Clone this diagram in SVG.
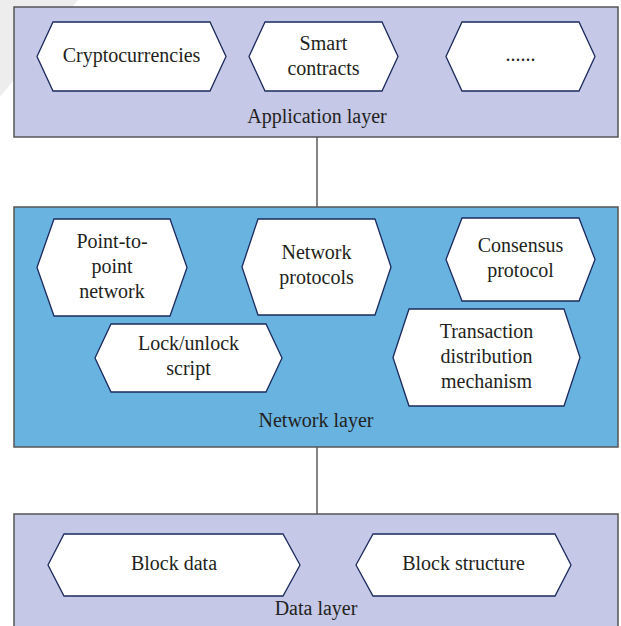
<svg xmlns="http://www.w3.org/2000/svg" width="621" height="626" viewBox="0 0 621 626">
<style>
.layer{stroke:#555;stroke-width:1.5}
.light{fill:#c5c8e6}
.blue{fill:#69b3e1}
.hex{fill:#fff;stroke:#1b2a5c;stroke-width:1.3;stroke-linejoin:miter}
text{font-family:'Liberation Serif','DejaVu Serif',serif;font-size:20px;fill:#231f20;text-anchor:middle}
.conn{stroke:#333;stroke-width:1.2;fill:none}
</style>
<rect width="621" height="626" fill="#fff"/>
<polygon points="0,0 78,0 0,97" fill="#ededed"/>
<g id="connectors">
<line class="conn" x1="317" y1="137" x2="317" y2="207"/>
<line class="conn" x1="317" y1="447" x2="317" y2="514"/>
</g>
<g font-family="Liberation Serif, DejaVu Serif, serif">
<g id="application-layer">
<rect class="layer light" x="14" y="7" width="604" height="130"/>
<text x="317" y="123">Application layer</text>
</g>
<g id="cryptocurrencies">
<polygon class="hex" points="37,56.5 53,22 210,22 226,56.5 210,91 53,91"/>
<text x="131.5" y="62">Cryptocurrencies</text>
</g>
<g id="smart-contracts">
<polygon class="hex" points="249,56.5 265,22 382,22 398,56.5 382,91 265,91"/>
<text x="323.5" y="50">Smart</text>
<text x="323.5" y="75">contracts</text>
</g>
<g id="etc">
<polygon class="hex" points="446,56.5 462,22 579,22 595,56.5 579,91 462,91"/>
<text x="520.5" y="61">......</text>
</g>
<g id="network-layer">
<rect class="layer blue" x="14" y="207" width="604" height="240"/>
<text x="316" y="427">Network layer</text>
</g>
<g id="point-to-point">
<polygon class="hex" points="37,267.5 54,219 170,219 187,267.5 170,316 54,316"/>
<text x="112" y="248">Point-to-</text>
<text x="112" y="273">point</text>
<text x="112" y="298">network</text>
</g>
<g id="network-protocols">
<polygon class="hex" points="242,267 258,219 375,219 391,267 375,315 258,315"/>
<text x="316.5" y="259">Network</text>
<text x="316.5" y="284">protocols</text>
</g>
<g id="consensus-protocol">
<polygon class="hex" points="446,259.5 462,218 579,218 595,259.5 579,301 462,301"/>
<text x="520.5" y="252">Consensus</text>
<text x="520.5" y="277">protocol</text>
</g>
<g id="lock-unlock">
<polygon class="hex" points="95,358 111,324 266,324 282,358 266,392 111,392"/>
<text x="188.5" y="350">Lock/unlock</text>
<text x="188.5" y="375">script</text>
</g>
<g id="transaction">
<polygon class="hex" points="393,357.5 409,309 564,309 580,357.5 564,406 409,406"/>
<text x="486.5" y="338">Transaction</text>
<text x="486.5" y="363">distribution</text>
<text x="486.5" y="388">mechanism</text>
</g>
<g id="data-layer">
<rect class="layer light" x="14" y="514" width="604" height="130"/>
<text x="316" y="615">Data layer</text>
</g>
<g id="block-data">
<polygon class="hex" points="48,565 64,534 283,534 300,565 283,596 64,596"/>
<text x="174" y="570">Block data</text>
</g>
<g id="block-structure">
<polygon class="hex" points="356,565 373,534 555,534 571,565 555,596 373,596"/>
<text x="463.5" y="570">Block structure</text>
</g>
</g>
</svg>
